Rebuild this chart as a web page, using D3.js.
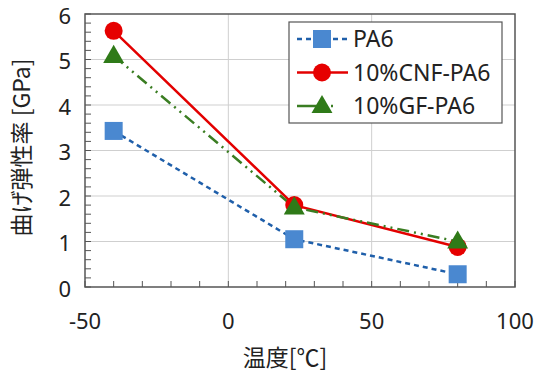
<!DOCTYPE html>
<html lang="ja">
<head>
<meta charset="UTF-8">
<title>曲げ弾性率</title>
<script src="https://d3js.org/d3.v7.min.js"></script>
<style>
  body { margin: 0; background: #fff; }
  svg text { font-family: "Noto Sans", "Noto Sans CJK JP", sans-serif; fill: #222; }
  svg text.jp { font-family: "Noto Sans CJK JP", sans-serif; }
</style>
</head>
<body>
<div id="chart"></div>
<script>
// data
var temps = [-40, 23, 80];
var pa6 = [3.43, 1.05, 0.28];
var cnf = [5.63, 1.8, 0.88];
var gf = [5.08, 1.75, 1.0];
var xTicks = [-50, 0, 50, 100];
var yTicks = [0, 1, 2, 3, 4, 5, 6];

var series = [
  { name: "PA6", values: pa6, line: "#1f5faa", fill: "#4a88d0", dash: "5,4", shape: "square" },
  { name: "10%CNF-PA6", values: cnf, line: "#e30000", fill: "#e60000", dash: null, shape: "circle" },
  { name: "10%GF-PA6", values: gf, line: "#3a7d22", fill: "#2f7a18", dash: "12,5,2,5,2,5", shape: "triangle" }
];

var width = 536, height = 378;
var margin = { top: 14, right: 21, bottom: 91, left: 85 };
var w = width - margin.left - margin.right;
var h = height - margin.top - margin.bottom;

var svg = d3.select("#chart").append("svg")
  .attr("width", width).attr("height", height);
var g = svg.append("g")
  .attr("transform", "translate(" + margin.left + "," + margin.top + ")");

var x = d3.scaleLinear().domain([-50, 100]).range([0, w]);
var y = d3.scaleLinear().domain([0, 6]).range([h, 0]);

// grid
g.selectAll(".gy").data(yTicks.slice(1, -1)).enter().append("line")
  .attr("x1", 0).attr("x2", w)
  .attr("y1", function(d) { return y(d); }).attr("y2", function(d) { return y(d); })
  .attr("stroke", "#cfcfcf").attr("stroke-width", 1);
g.selectAll(".gx").data(xTicks.slice(1, -1)).enter().append("line")
  .attr("y1", 0).attr("y2", h)
  .attr("x1", function(d) { return x(d); }).attr("x2", function(d) { return x(d); })
  .attr("stroke", "#cfcfcf").attr("stroke-width", 1);

// minor ticks (inside)
g.selectAll(".my").data(d3.range(0, 6.001, 0.2)).enter().append("line")
  .attr("x1", 0).attr("x2", 6)
  .attr("y1", function(d) { return y(d); }).attr("y2", function(d) { return y(d); })
  .attr("stroke", "#555");
g.selectAll(".mx").data(d3.range(-50, 100.001, 10)).enter().append("line")
  .attr("y1", h).attr("y2", h - 6)
  .attr("x1", function(d) { return x(d); }).attr("x2", function(d) { return x(d); })
  .attr("stroke", "#555");

// frame
g.append("rect").attr("width", w).attr("height", h)
  .attr("fill", "none").attr("stroke", "#555").attr("stroke-width", 1.5);

// tick labels
g.selectAll(".ty").data(yTicks).enter().append("text")
  .attr("x", -14).attr("y", function(d) { return y(d); })
  .attr("dy", "0.44em").attr("text-anchor", "end")
  .style("font-size", "22px").text(function(d) { return d; });
g.selectAll(".tx").data(xTicks).enter().append("text")
  .attr("x", function(d) { return x(d); }).attr("y", h + 42)
  .attr("text-anchor", "middle")
  .style("font-size", "22px").text(function(d) { return d; });

// axis titles
g.append("text").attr("class", "jp").attr("x", w / 2 - 15).attr("y", h + 79)
  .attr("text-anchor", "middle").style("font-size", "23px").text("温度[℃]");
g.append("text").attr("class", "jp")
  .attr("transform", "translate(" + (-55) + "," + (h / 2 - 3) + ") rotate(-90)")
  .attr("text-anchor", "middle").style("font-size", "23px").text("曲げ弾性率 [GPa]");

function marker(sel, s, cx, cy) {
  if (s.shape === "square") {
    sel.append("rect").attr("x", cx - 9).attr("y", cy - 9).attr("width", 18).attr("height", 18)
      .attr("fill", s.fill);
  } else if (s.shape === "circle") {
    sel.append("circle").attr("cx", cx).attr("cy", cy).attr("r", 9).attr("fill", s.fill);
  } else {
    sel.append("path").attr("d", d3.symbol().type(d3.symbolTriangle).size(190)())
      .attr("transform", "translate(" + cx + "," + (cy + 1) + ")").attr("fill", s.fill);
  }
}

var line = d3.line()
  .x(function(d, i) { return x(temps[i]); })
  .y(function(d) { return y(d); });

series.forEach(function(s) {
  g.append("path").datum(s.values).attr("d", line)
    .attr("fill", "none").attr("stroke", s.line).attr("stroke-width", 2.5)
    .attr("stroke-dasharray", s.dash);
});
series.forEach(function(s) {
  s.values.forEach(function(v, i) { marker(g, s, x(temps[i]), y(v)); });
});

// legend
var lg = svg.append("g").attr("transform", "translate(289,22)");
lg.append("rect").attr("width", 213).attr("height", 101)
  .attr("fill", "#fff").attr("stroke", "#555").attr("stroke-width", 1.2);
series.forEach(function(s, i) {
  var cy = 17 + i * 33.5;
  lg.append("line").attr("x1", 8).attr("x2", 59).attr("y1", cy).attr("y2", cy)
    .attr("stroke", s.line).attr("stroke-width", 2.5)
    .attr("stroke-dasharray", s.shape === "square" ? "5,4" : (s.shape === "triangle" ? "28,6,2,20" : null));
  marker(lg, s, 33, cy);
  lg.append("text").attr("x", 64).attr("y", cy).attr("dy", "0.36em")
    .style("font-size", "23px").text(s.name);
});
</script>
</body>
</html>
